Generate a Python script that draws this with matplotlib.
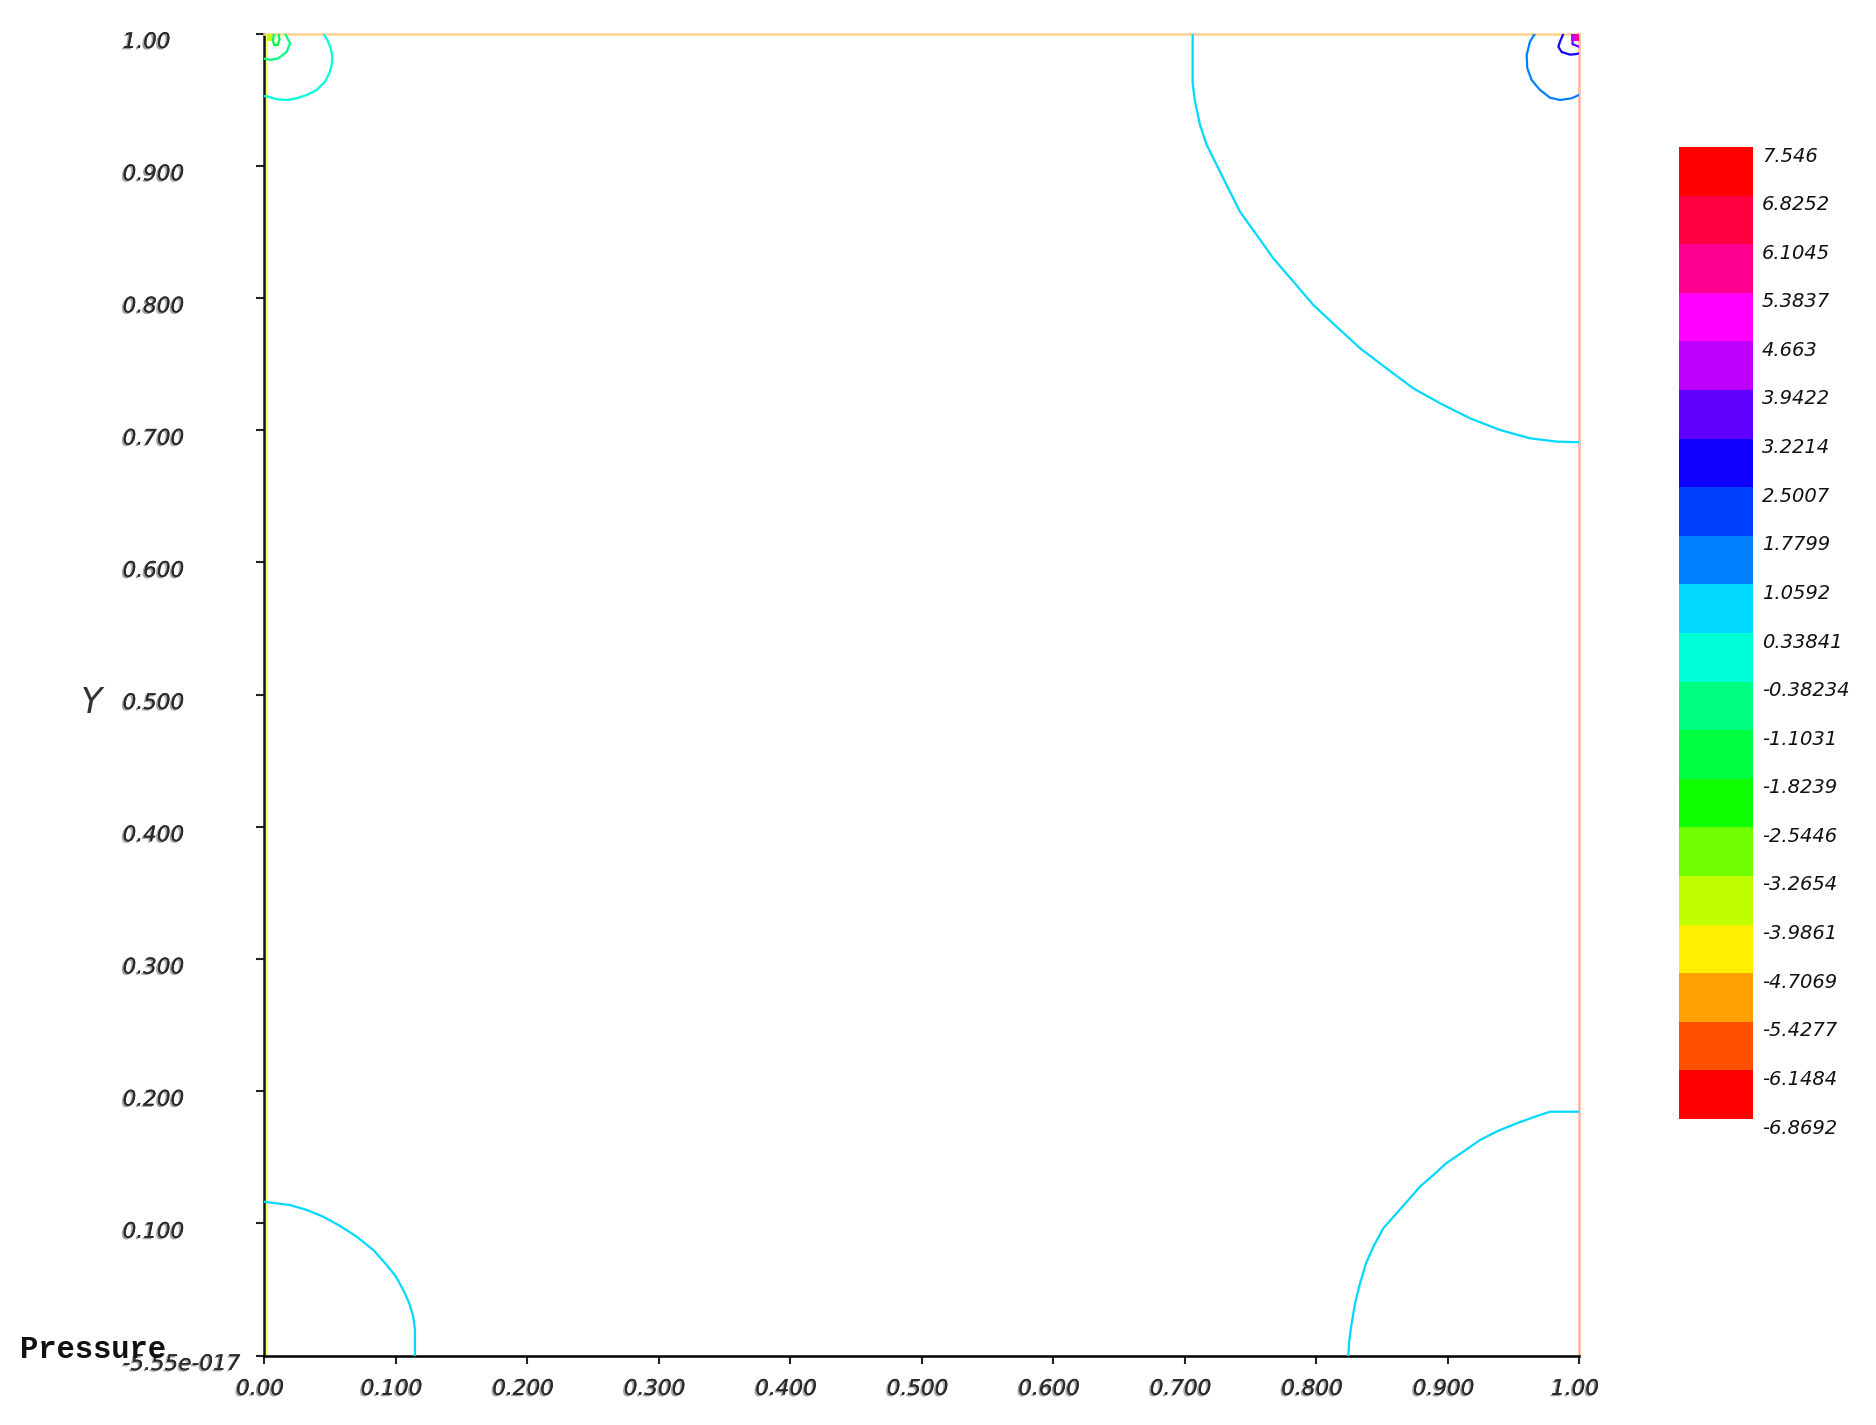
import matplotlib
matplotlib.use("Agg")
import matplotlib.pyplot as plt
import matplotlib as mpl
import matplotlib.patheffects as pe
from matplotlib.colors import ListedColormap, BoundaryNorm
from matplotlib.transforms import ScaledTranslation

# ---------------- data ----------------
levels = [-6.8692, -6.1484, -5.4277, -4.7069, -3.9861, -3.2654, -2.5446, -1.8239,
          -1.1031, -0.38234, 0.33841, 1.0592, 1.7799, 2.5007, 3.2214, 3.9422,
          4.663, 5.3837, 6.1045, 6.8252, 7.546]
level_labels = ["-6.8692", "-6.1484", "-5.4277", "-4.7069", "-3.9861", "-3.2654",
                "-2.5446", "-1.8239", "-1.1031", "-0.38234", "0.33841", "1.0592",
                "1.7799", "2.5007", "3.2214", "3.9422", "4.663", "5.3837", "6.1045",
                "6.8252", "7.546"]
bin_colors = ["#ff0000", "#ff5000", "#ffa000", "#fff000", "#c0ff00", "#70ff00",
              "#10ff00", "#00ff40", "#00ff80", "#00ffd8", "#00d8ff", "#0080ff",
              "#0040ff", "#1000ff", "#6000ff", "#c000ff", "#ff00ff", "#ff0090",
              "#ff0040", "#ff0000"]

x_ticks = [0.0, 0.1, 0.2, 0.3, 0.4, 0.5, 0.6, 0.7, 0.8, 0.9, 1.0]
x_tick_labels = ["0.00", "0.100", "0.200", "0.300", "0.400", "0.500", "0.600",
                 "0.700", "0.800", "0.900", "1.00"]
y_ticks = [0.0, 0.1, 0.2, 0.3, 0.4, 0.5, 0.6, 0.7, 0.8, 0.9, 1.0]
y_tick_labels = ["-5.55e-017", "0.100", "0.200", "0.300", "0.400", "0.500", "0.600",
                 "0.700", "0.800", "0.900", "1.00"]

# contour lines (x, y, colour bin)
c_bl_x = [0.0, 0.0198, 0.0325, 0.0451, 0.0578, 0.0705, 0.0831, 0.0933, 0.1004, 0.1059,
          0.1105, 0.1135, 0.1148, 0.1148]
c_bl_y = [0.1163, 0.1138, 0.1101, 0.105, 0.098, 0.0899, 0.0798, 0.0685, 0.0596, 0.0496,
          0.0395, 0.0294, 0.0193, 0.0]
c_bl_bin = 10

c_br_x = [0.8246, 0.8253, 0.8271, 0.8297, 0.8335, 0.838, 0.8436, 0.8512, 0.8613, 0.8702,
          0.879, 0.8892, 0.899, 0.912, 0.9247, 0.9386, 0.9526, 0.9653, 0.978, 1.0]
c_br_y = [0.0, 0.0117, 0.0243, 0.0395, 0.0546, 0.0697, 0.0823, 0.0962, 0.1076, 0.1176,
          0.1277, 0.1365, 0.1454, 0.1542, 0.163, 0.170, 0.1756, 0.1802, 0.1844, 0.1844]
c_br_bin = 10

c_tr_x = [0.7062, 0.7062, 0.708, 0.7118, 0.7169, 0.7245, 0.7333, 0.7422, 0.7549, 0.7675,
          0.7828, 0.798, 0.8157, 0.8335, 0.8537, 0.874, 0.8943, 0.917, 0.9399, 0.9627,
          0.983, 1.0]
c_tr_y = [1.0, 0.9623, 0.9485, 0.9308, 0.9157, 0.9005, 0.8829, 0.8652, 0.8476, 0.830,
          0.8123, 0.7946, 0.7782, 0.7619, 0.7467, 0.7316, 0.7203, 0.709, 0.7001, 0.6938,
          0.6913, 0.6908]
c_tr_bin = 10

c_tl1_x = [0.0451, 0.0482, 0.0507, 0.0520, 0.0515, 0.0497, 0.0464, 0.0401, 0.0325,
           0.0249, 0.0173, 0.0097, 0.0033, 0.0]
c_tl1_y = [1.0, 0.9951, 0.9888, 0.9825, 0.9762, 0.970, 0.9636, 0.9573, 0.9535,
           0.951, 0.9497, 0.9502, 0.9522, 0.9527]
c_tl1_bin = 9

c_tl2_x = [0.016, 0.0198, 0.0173, 0.0109, 0.0046, 0.0]
c_tl2_y = [1.0, 0.9926, 0.9862, 0.9812, 0.9800, 0.981]
c_tl2_bin = 8

c_tl3_x = [0.0075, 0.0068, 0.0078, 0.0105, 0.0118, 0.0112]
c_tl3_y = [1.0, 0.9945, 0.9912, 0.9915, 0.9955, 1.0]
c_tl3_bin = 7

c_tr2_x = [0.9665, 0.9627, 0.9602, 0.9607, 0.964, 0.9703, 0.978, 0.9856, 0.9944, 1.0]
c_tr2_y = [1.0, 0.9938, 0.9837, 0.9737, 0.9648, 0.9573, 0.9514, 0.9497, 0.951, 0.9535]
c_tr2_bin = 11

c_tr3_x = [0.988, 0.9855, 0.9843, 0.9868, 0.9932, 0.9983, 1.0]
c_tr3_y = [0.9995, 0.9937, 0.990, 0.986, 0.984, 0.9845, 0.985]
c_tr3_bin = 13

c_tr4_x = [0.9957, 0.995, 1.0]
c_tr4_y = [1.0, 0.992, 0.990]
c_tr4_bin = 14

# small filled spots at the lid corners
spot_tl_x = [0.0022, 0.006, 0.006, 0.0022]
spot_tl_y = [1.0, 1.0, 0.994, 0.994]
spot_tl_bin = 4
spot_tr1_x = [0.9937, 0.997, 0.997, 0.9937]
spot_tr1_y = [1.0, 1.0, 0.994, 0.994]
spot_tr1_bin = 15
spot_tr2_x = [0.997, 1.0, 1.0, 0.997]
spot_tr2_y = [1.0, 1.0, 0.994, 0.994]
spot_tr2_bin = 17

curves = [
    (c_bl_x, c_bl_y, c_bl_bin), (c_br_x, c_br_y, c_br_bin), (c_tr_x, c_tr_y, c_tr_bin),
    (c_tl1_x, c_tl1_y, c_tl1_bin), (c_tl2_x, c_tl2_y, c_tl2_bin), (c_tl3_x, c_tl3_y, c_tl3_bin),
    (c_tr2_x, c_tr2_y, c_tr2_bin), (c_tr3_x, c_tr3_y, c_tr3_bin), (c_tr4_x, c_tr4_y, c_tr4_bin),
]
spots = [(spot_tl_x, spot_tl_y, spot_tl_bin), (spot_tr1_x, spot_tr1_y, spot_tr1_bin),
         (spot_tr2_x, spot_tr2_y, spot_tr2_bin)]

# ---------------- figure ----------------
W, H = 1876, 1425
fig = plt.figure(figsize=(W / 100, H / 100), dpi=100)
fig.patch.set_facecolor("white")

ax = fig.add_axes([264 / W, 1 - 1355.5 / H, 1315 / W, 1322 / H])
ax.set_xlim(0, 1)
ax.set_ylim(0, 1)

for xs, ys, b in curves:
    ax.plot(xs, ys, color=bin_colors[b], lw=1.6, solid_joinstyle="round",
            solid_capstyle="round", zorder=3)
for xs, ys, b in spots:
    ax.fill(xs, ys, color=bin_colors[b], lw=0, zorder=3)

# boundary contour on the left wall
ax.axvline(0.0025, color="#ffff70", lw=1.6, zorder=2)

for side in ["top", "right", "bottom", "left"]:
    ax.spines[side].set_linewidth(1.8)
ax.spines["top"].set_color("#ffd28e")
ax.spines["right"].set_color("#ffb49c")
ax.spines["bottom"].set_color("black")
ax.spines["left"].set_color("#111111")

shadow = [pe.withSimplePatchShadow(offset=(-1.3, -1.0), shadow_rgbFace="#9a9a9a", alpha=0.9),
          pe.Normal()]
tick_font = dict(family="DejaVu Sans", style="italic", size=15.5)

ax.set_xticks(x_ticks)
ax.set_xticklabels(x_tick_labels, color="#2a2a2a", **tick_font)
ax.set_yticks(y_ticks)
ax.set_yticklabels(y_tick_labels, color="#2a2a2a", **tick_font)
ax.tick_params(axis="both", direction="out", length=5.8, width=1.5, color="#222222")
ax.tick_params(axis="x", pad=11)
ax.tick_params(axis="y", pad=96)
for lbl in ax.get_yticklabels():
    lbl.set_horizontalalignment("left")
    lbl.set_path_effects(shadow)
    lbl.set_transform(lbl.get_transform() + ScaledTranslation(0, -0.065, fig.dpi_scale_trans))
for lbl in ax.get_xticklabels():
    lbl.set_path_effects(shadow)
    lbl.set_transform(lbl.get_transform() + ScaledTranslation(-0.04, 0, fig.dpi_scale_trans))

ax.set_ylabel("Y", rotation=0, family="DejaVu Sans", style="italic", size=25,
              color="#333333", ha="center", va="center")
ax.yaxis.set_label_coords((91 - 264) / 1315, (1355.5 - 703) / 1322)

fig.text(20 / W, 1 - 1358 / H, "Pressure", family="Liberation Mono", weight="bold",
         size=22, color="#111111", va="baseline", ha="left")

# ---------------- colour bar ----------------
cax = fig.add_axes([1679 / W, 1 - 1119 / H, 74 / W, 972 / H])
cmap = ListedColormap(bin_colors)
norm = BoundaryNorm(levels, cmap.N)
cb = fig.colorbar(mpl.cm.ScalarMappable(norm=norm, cmap=cmap), cax=cax,
                  boundaries=levels, ticks=levels, spacing="uniform")
cb.outline.set_visible(False)
cax.set_yticklabels(level_labels)
cax.tick_params(length=0, pad=6.5)
for lbl in cax.get_yticklabels():
    lbl.set_fontfamily("DejaVu Sans")
    lbl.set_fontstyle("italic")
    lbl.set_fontsize(14)
    lbl.set_color("#111111")
    lbl.set_transform(lbl.get_transform() + ScaledTranslation(0, -0.07, fig.dpi_scale_trans))

fig.savefig("out.png", dpi=100, facecolor="white")
